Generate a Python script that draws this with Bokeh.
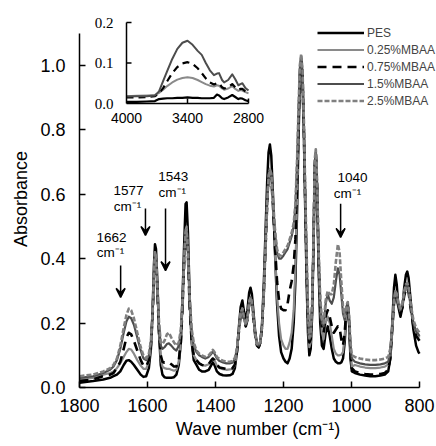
from bokeh.plotting import figure
from bokeh.models import (Range1d, FixedTicker, PrintfTickFormatter, Legend, LegendItem,
                          Arrow, VeeHead)
from bokeh.core.properties import value
from bokeh.embed import file_html
from bokeh.resources import INLINE

# ---------------- data ----------------
wavenumber = [1800, 1760, 1730, 1710, 1700, 1690, 1680, 1670, 1662, 1655, 1648, 1640, 1630, 1620,
              1612, 1604, 1596, 1590, 1585, 1581, 1578, 1575, 1571, 1566, 1561, 1556, 1550, 1543,
              1537, 1530, 1522, 1515, 1508, 1502, 1497, 1492, 1488, 1485, 1481, 1476, 1470, 1464,
              1456, 1448, 1440, 1430, 1420, 1412, 1408, 1403, 1396, 1388, 1378, 1368, 1358, 1350,
              1343, 1337, 1331, 1326, 1321, 1316, 1311, 1306, 1301, 1297, 1293, 1288, 1283, 1278,
              1273, 1268, 1263, 1258, 1253, 1248, 1244, 1240, 1236, 1231, 1225, 1219, 1213, 1207,
              1200, 1194, 1188, 1182, 1176, 1170, 1165, 1160, 1156, 1152, 1148, 1144, 1140, 1136,
              1132, 1128, 1124, 1120, 1116, 1112, 1108, 1105, 1101, 1097, 1092, 1087, 1082, 1076,
              1070, 1064, 1058, 1052, 1046, 1040, 1035, 1030, 1025, 1020, 1015, 1011, 1007, 1003,
              999, 990, 975, 960, 945, 930, 915, 902, 892, 886, 880, 875, 871, 867, 862, 856, 850,
              845, 840, 836, 832, 826, 818, 810, 803, 800]

pes = [.015, .020, .025, .030, .035, .040, .050, .070, .083, .085, .080, .070, .055, .040,
       .033, .035, .060, .120, .240, .380, .445, .430, .330, .170, .070, .040, .032, .030,
       .030, .030, .032, .040, .070, .140, .280, .450, .570, .575, .480, .280, .140, .085,
       .070, .055, .050, .050, .055, .070, .078, .070, .050, .042, .038, .037, .038, .042,
       .060, .110, .190, .250, .270, .235, .210, .240, .295, .310, .290, .230, .170, .135,
       .125, .140, .200, .320, .480, .640, .730, .755, .720, .600, .420, .260, .160, .110,
       .090, .080, .075, .090, .120, .200, .330, .550, .770, .940, 1.000, .950, .780, .550,
       .330, .170, .100, .120, .220, .420, .680, .725, .600, .380, .200, .130, .120, .170,
       .190, .160, .120, .090, .080, .075, .075, .078, .090, .140, .230, .255, .200, .090,
       .050, .045, .040, .037, .035, .035, .037, .040, .050, .090, .200, .310, .350, .320, .250, .220, .250,
       .310, .350, .360, .340, .270, .180, .130, .110, .105]

mbaa_025 = [.025, .030, .040, .045, .050, .060, .075, .095, .110, .120, .118, .105, .085, .068,
            .058, .058, .080, .130, .230, .350, .420, .410, .310, .170, .090, .065, .060, .058,
            .058, .055, .052, .055, .080, .140, .260, .400, .490, .500, .420, .260, .140, .100,
            .085, .075, .070, .068, .072, .085, .090, .085, .068, .060, .057, .055, .056, .058,
            .070, .110, .180, .230, .245, .215, .190, .215, .265, .280, .265, .215, .160, .130,
            .125, .140, .190, .300, .440, .580, .660, .680, .660, .570, .420, .280, .200, .150,
            .130, .120, .120, .140, .170, .240, .370, .580, .790, .960, 1.020, .970, .800, .570,
            .360, .200, .125, .140, .240, .430, .690, .730, .620, .410, .240, .170, .150, .200,
            .220, .200, .160, .120, .105, .100, .100, .102, .110, .160, .240, .255, .210, .110,
            .065, .070, .065, .062, .060, .060, .062, .065, .072, .100, .190, .270, .300, .290, .260, .235, .255,
            .290, .310, .315, .300, .250, .200, .170, .160, .155]

mbaa_075 = [.020, .025, .035, .040, .045, .060, .080, .120, .155, .170, .165, .145, .115, .085,
            .068, .065, .085, .130, .220, .340, .410, .400, .300, .170, .100, .080, .077, .078,
            .078, .072, .065, .065, .085, .140, .250, .390, .470, .480, .410, .250, .140, .100,
            .085, .075, .070, .068, .072, .085, .090, .085, .070, .062, .060, .058, .058, .060,
            .072, .110, .175, .225, .240, .210, .190, .210, .260, .275, .260, .210, .160, .130,
            .125, .140, .190, .290, .430, .570, .650, .670, .650, .565, .440, .330, .270, .245,
            .240, .240, .260, .300, .330, .380, .460, .630, .810, .970, 1.020, .970, .800, .570,
            .370, .210, .140, .150, .240, .430, .690, .730, .620, .410, .250, .180, .170, .220,
            .240, .220, .190, .170, .180, .190, .185, .150, .130, .170, .245, .260, .210, .110,
            .060, .050, .045, .042, .040, .040, .042, .045, .055, .090, .180, .260, .290, .280, .250, .230, .250,
            .285, .305, .310, .295, .245, .190, .160, .150, .145]

mbaa_15 = [.030, .035, .045, .055, .065, .085, .120, .170, .205, .220, .215, .195, .155, .115,
           .090, .085, .100, .140, .230, .350, .415, .400, .310, .190, .130, .120, .125, .135,
           .137, .130, .120, .115, .130, .170, .270, .400, .480, .490, .420, .270, .170, .130,
           .110, .100, .095, .090, .095, .105, .112, .105, .090, .082, .078, .075, .075, .077,
           .088, .120, .180, .230, .245, .215, .195, .215, .265, .280, .265, .215, .165, .135,
           .130, .145, .190, .290, .430, .570, .650, .670, .660, .580, .480, .420, .400, .400,
           .410, .420, .430, .450, .470, .500, .560, .700, .850, .990, 1.030, .980, .820, .600,
           .410, .240, .150, .160, .250, .440, .700, .735, .630, .430, .270, .200, .190, .260,
           .290, .270, .260, .280, .330, .370, .350, .290, .230, .210, .250, .265, .220, .130,
           .090, .080, .075, .072, .070, .070, .072, .075, .080, .110, .190, .270, .295, .285, .255, .240, .260,
           .295, .315, .320, .305, .255, .200, .175, .165, .160]

mbaa_25 = [.035, .040, .050, .060, .070, .090, .130, .185, .225, .245, .240, .215, .170, .125,
           .100, .090, .105, .145, .230, .350, .420, .410, .320, .200, .140, .135, .145, .165,
           .170, .155, .140, .130, .140, .180, .270, .400, .480, .490, .420, .280, .180, .140,
           .115, .105, .100, .095, .100, .110, .117, .110, .095, .088, .083, .080, .080, .082,
           .092, .120, .180, .230, .245, .215, .195, .215, .265, .280, .265, .215, .165, .135,
           .130, .145, .190, .290, .430, .570, .650, .675, .665, .585, .490, .430, .410, .410,
           .420, .430, .440, .460, .480, .510, .570, .710, .860, 1.000, 1.035, .985, .830, .610,
           .420, .250, .155, .170, .260, .450, .710, .740, .640, .440, .280, .210, .200, .270,
           .300, .290, .290, .320, .390, .445, .420, .330, .250, .220, .255, .265, .220, .140,
           .100, .095, .090, .087, .085, .085, .087, .090, .095, .120, .190, .270, .300, .290, .260, .245, .265,
           .300, .320, .325, .310, .260, .210, .185, .175, .170]

series_labels = ["PES", "0.25%MBAA", "0.75%MBAA", "1.5%MBAA", "2.5%MBAA"]

# inset: 4000-2800 cm-1 region
inset_wavenumber = [4000, 3900, 3800, 3720, 3680, 3640, 3600, 3550, 3500, 3450, 3400, 3350, 3300,
                    3260, 3220, 3180, 3140, 3110, 3090, 3060, 3040, 3000, 2960, 2930, 2900, 2880,
                    2860, 2830, 2800]
inset_pes = [.004, .004, .005, .006, .011, .012, .013, .013, .014, .014, .015, .014, .014,
             .013, .013, .013, .014, .022, .020, .013, .011, .015, .021, .016, .011, .013,
             .012, .008, .006]
inset_025 = [.018, .019, .020, .021, .026, .034, .043, .052, .059, .063, .065, .063, .058,
             .053, .048, .044, .042, .045, .044, .037, .034, .037, .043, .036, .031, .033,
             .032, .028, .025]
inset_075 = [.015, .015, .016, .018, .025, .038, .055, .075, .090, .099, .102, .098, .087,
             .075, .062, .052, .047, .050, .050, .040, .037, .040, .048, .040, .034, .036,
             .036, .030, .027]
inset_high = [.017, .018, .018, .020, .030, .055, .080, .110, .135, .150, .155, .145, .130,
              .120, .100, .082, .070, .074, .075, .058, .052, .058, .072, .060, .045, .048,
              .050, .038, .032]
inset_x_ticks = [4000, 3400, 2800]
inset_y_ticks = [0.0, 0.1, 0.2]

main_x_ticks = [1800, 1600, 1400, 1200, 1000, 800]
main_y_ticks = [0.0, 0.2, 0.4, 0.6, 0.8, 1.0]

band_labels = ["1662", "1577", "1543", "1040"]

# ---------------- layout constants ----------------
W, H = 436, 446
F_LEFT, F_RIGHT, F_TOP, F_BOTTOM = 79, 436, 10, 387
X_PX_PER_UNIT = 0.34
Y_PX_PER_UNIT = 322.0
x_end = 1800 - (F_RIGHT - F_LEFT) / X_PX_PER_UNIT
y_top = (F_BOTTOM - F_TOP) / Y_PX_PER_UNIT

# inset box in screen pixels
IN_X0_PX, IN_X1_PX = 126, 248      # 4000 and 2800
IN_Y0_PX, IN_Y1_PX = 103, 22       # 0.0 and 0.2
ix_scale = (IN_X1_PX - IN_X0_PX) / (4000 - 2800)   # px per unit
iy_scale = (IN_Y0_PX - IN_Y1_PX) / 0.2
ix_start = 4000 + (IN_X0_PX - F_LEFT) / ix_scale
ix_end = 2800 - (F_RIGHT - IN_X1_PX) / ix_scale
iy_end = 0.2 + (IN_Y1_PX - F_TOP) / iy_scale
iy_start = -(F_BOTTOM - IN_Y0_PX) / iy_scale

FONT = "Liberation Sans"
SERIF = "Liberation Serif"

p = figure(width=W, height=H, x_range=Range1d(1800, x_end), y_range=Range1d(0, y_top),
           output_backend="svg", toolbar_location=None,
           min_border_left=F_LEFT, min_border_right=W - F_RIGHT,
           min_border_top=F_TOP, min_border_bottom=H - F_BOTTOM)
p.outline_line_color = None
p.xgrid.visible = False
p.ygrid.visible = False
p.background_fill_color = "white"
p.border_fill_color = "white"

p.extra_x_ranges = {"ix": Range1d(ix_start, ix_end)}
p.extra_y_ranges = {"iy": Range1d(iy_start, iy_end)}

for ax in (p.xaxis[0], p.yaxis[0]):
    ax.axis_line_color = "black"
    ax.axis_line_width = 1.5
    ax.major_tick_line_color = "black"
    ax.major_tick_line_width = 1.5
    ax.major_tick_in = 6
    ax.major_tick_out = 0
    ax.minor_tick_line_color = None
    ax.major_label_text_font = FONT
    ax.major_label_text_font_size = "18px"
    ax.major_label_text_color = "black"
    ax.axis_label_text_font = FONT
    ax.axis_label_text_font_size = "18px"
    ax.axis_label_text_font_style = "normal"
    ax.axis_label_text_color = "black"

p.xaxis.ticker = FixedTicker(ticks=main_x_ticks)
p.yaxis.ticker = FixedTicker(ticks=main_y_ticks)
p.yaxis.formatter = PrintfTickFormatter(format="%.1f")
p.yaxis.bounds = (0, 1.1)
p.xaxis.bounds = (800, 1800)
p.xaxis.axis_label = "Wave number (cm\u207b\u00b9)"
p.yaxis.axis_label = "Absorbance"
p.xaxis.major_label_standoff = 11
p.xaxis.axis_label_standoff = 4
p.yaxis.major_label_standoff = 14
p.yaxis.axis_label_standoff = 6

styles = [
    dict(line_color="black", line_width=2.5),
    dict(line_color="#8a8a8a", line_width=2.2),
    dict(line_color="black", line_width=2.6, line_dash="9 6"),
    dict(line_color="#4d4d4d", line_width=2.2),
    dict(line_color="#808080", line_width=2.6, line_dash="5 2"),
]
all_series = [pes, mbaa_025, mbaa_075, mbaa_15, mbaa_25]
renderers = []
for ys, st in zip(all_series, styles):
    r = p.line(wavenumber, ys, line_join="round", **st)
    renderers.append(r)

# inset
inset_styles = [
    (inset_pes, dict(line_color="black", line_width=2.2)),
    (inset_025, dict(line_color="#8a8a8a", line_width=2.0)),
    (inset_075, dict(line_color="black", line_width=2.2, line_dash="7 5")),
    (inset_high, dict(line_color="#4d4d4d", line_width=2.0)),
]
for ys, st in inset_styles:
    p.line(inset_wavenumber, ys, x_range_name="ix", y_range_name="iy", line_join="round", **st)

tick_len_px = 5
p.segment(x0=[inset_x_ticks[0], inset_x_ticks[0]], y0=[inset_y_ticks[0], inset_y_ticks[0]],
          x1=[inset_x_ticks[-1], inset_x_ticks[0]], y1=[inset_y_ticks[0], inset_y_ticks[-1]],
          x_range_name="ix", y_range_name="iy", line_color="black", line_width=1.5)
p.segment(x0=[inset_x_ticks[0]] * 2, y0=inset_y_ticks[1:],
          x1=[inset_x_ticks[0] - tick_len_px / ix_scale] * 2, y1=inset_y_ticks[1:],
          x_range_name="ix", y_range_name="iy", line_color="black", line_width=1.5)
p.segment(x0=inset_x_ticks[1:], y0=[0, 0], x1=inset_x_ticks[1:], y1=[tick_len_px / iy_scale] * 2,
          x_range_name="ix", y_range_name="iy", line_color="black", line_width=1.5)
p.text(x=[inset_x_ticks[0]] * 3, y=inset_y_ticks, text=["%.1f" % v for v in inset_y_ticks],
       x_range_name="ix", y_range_name="iy", x_offset=-13, text_align="right",
       text_baseline="middle", text_font=value(SERIF), text_font_size="15px", text_color="black")
p.text(x=inset_x_ticks, y=[0] * 3, text=[str(v) for v in inset_x_ticks],
       x_range_name="ix", y_range_name="iy", y_offset=9, text_align="center",
       text_baseline="top", text_font=value(FONT), text_font_size="14px", text_color="black")

# band annotations
ann_num_x = [1706, 1656, 1524, 997]
ann_num_y = [0.466, 0.612, 0.655, 0.652]
ann_unit_x = [1709, 1659, 1527, 1012]
ann_unit_y = [0.419, 0.562, 0.606, 0.602]
arrow_x = [1679, 1606, 1547, 1032]
arrow_y0 = [0.379, 0.556, 0.556, 0.571]
arrow_y1 = [0.280, 0.472, 0.363, 0.466]
p.text(x=ann_num_x, y=ann_num_y, text=band_labels, text_align="center", text_baseline="middle",
       text_font=value(FONT), text_font_size="13.5px", text_color="black")
p.text(x=ann_unit_x, y=ann_unit_y, text=["cm\u207b\u00b9"] * 4, text_align="center",
       text_baseline="middle", text_font=value(FONT), text_font_size="13.5px", text_color="black")
for ax_, y0, y1 in zip(arrow_x, arrow_y0, arrow_y1):
    p.add_layout(Arrow(end=VeeHead(size=9, fill_color="black", line_color="black", line_width=1.5),
                       x_start=ax_, y_start=y0, x_end=ax_, y_end=y1,
                       line_color="black", line_width=1.5))

legend = Legend(items=[LegendItem(label=lab, renderers=[r]) for lab, r in zip(series_labels, renderers)],
                location=(317 - F_LEFT, F_BOTTOM - (24 + 5 * 17)),
                glyph_width=47, glyph_height=17, label_height=17, spacing=0, padding=0, margin=0,
                label_standoff=3, label_text_font=FONT, label_text_font_size="12px",
                border_line_color=None, background_fill_alpha=0)
p.add_layout(legend)

open("out.html", "w").write(file_html(p, INLINE))
